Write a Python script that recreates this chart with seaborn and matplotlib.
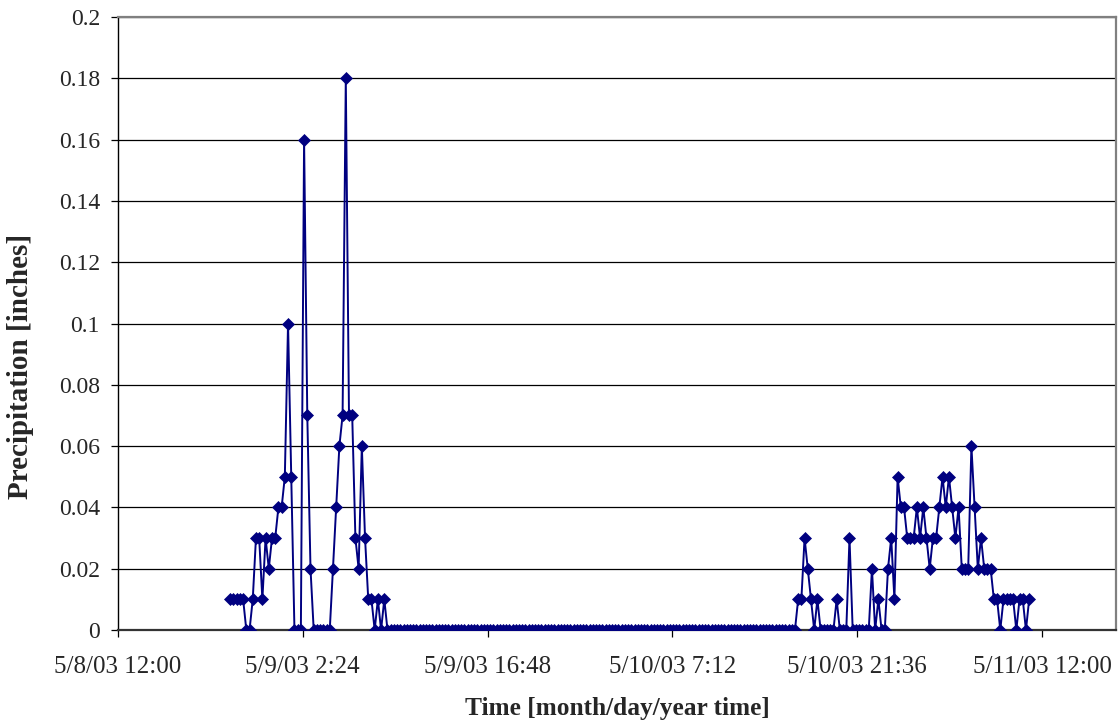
import numpy as np
import pandas as pd
import matplotlib
matplotlib.use("Agg")
import matplotlib.pyplot as plt
import seaborn as sns

# ---------------- data ----------------
start_time = "2003-05-08 12:00"      # left end of the time axis
interval_minutes = 15                # spacing of the readings
storm1_first_step = 35               # first reading = 5/8/03 20:45

storm1 = [0.01, 0.01, 0.01, 0.01, 0.01, 0, 0, 0.01, 0.03, 0.03, 0.01, 0.03,
          0.02, 0.03, 0.03, 0.04, 0.04, 0.05, 0.10, 0.05, 0, 0, 0, 0.16,
          0.07, 0.02, 0, 0, 0, 0, 0, 0, 0.02, 0.04, 0.06, 0.07, 0.18, 0.07,
          0.07, 0.03, 0.02, 0.06, 0.03, 0.01, 0.01, 0, 0.01, 0, 0.01]
dry_zero_readings = 128              # readings of 0 between the two storms
storm2 = [0.01, 0.01, 0.03, 0.02, 0.01, 0, 0.01, 0, 0, 0, 0, 0, 0.01, 0, 0,
          0, 0.03, 0, 0, 0, 0, 0, 0, 0.02, 0, 0.01, 0, 0, 0.02, 0.03, 0.01,
          0.05, 0.04, 0.04, 0.03, 0.03, 0.03, 0.04, 0.03, 0.04, 0.03, 0.02,
          0.03, 0.03, 0.04, 0.05, 0.04, 0.05, 0.04, 0.03, 0.04, 0.02, 0.02,
          0.02, 0.06, 0.04, 0.02, 0.03, 0.02, 0.02, 0.02, 0.01, 0.01, 0,
          0.01, 0.01, 0.01, 0.01, 0, 0.01, 0.01, 0, 0.01]

x_tick_labels = ["5/8/03 12:00", "5/9/03 2:24", "5/9/03 16:48",
                 "5/10/03 7:12", "5/10/03 21:36", "5/11/03 12:00"]
x_tick_step_hours = 14.4
x_axis_span_days = 3.2403
y_ticks = [0, 0.02, 0.04, 0.06, 0.08, 0.1, 0.12, 0.14, 0.16, 0.18, 0.2]
y_tick_labels = ["0", "0.02", "0.04", "0.06", "0.08", "0.1", "0.12",
                 "0.14", "0.16", "0.18", "0.2"]

# ---------------- build the table ----------------
values = storm1 + [0] * dry_zero_readings + storm2
t0 = pd.Timestamp(start_time)
steps = storm1_first_step + np.arange(len(values))
df = pd.DataFrame({
    "time": t0 + pd.to_timedelta(steps * interval_minutes, unit="min"),
    "precip": values,
})

# ---------------- draw ----------------
sns.set_style("white")
plt.rcParams["font.family"] = ["Liberation Serif", "DejaVu Serif"]

fig = plt.figure(figsize=(11.18, 7.26), dpi=100)
ax = fig.add_axes([118 / 1118, 1 - 630 / 726, 998 / 1118, 613 / 726])

sns.lineplot(data=df, x="time", y="precip", ax=ax, color="#000080",
             linewidth=1.4, marker="D", markersize=6.2,
             markerfacecolor="#000080", markeredgecolor="#000080",
             markeredgewidth=0.5, zorder=3)

ax.set_ylim(0, 0.2)
ax.set_yticks(y_ticks)
ax.set_yticklabels(y_tick_labels)
ax.set_xlim(t0, t0 + pd.Timedelta(days=x_axis_span_days))
tick_times = [t0 + pd.Timedelta(hours=x_tick_step_hours * k)
              for k in range(len(x_tick_labels))]
ax.set_xticks(tick_times)
ax.set_xticklabels(x_tick_labels)

ax.yaxis.grid(True, color="black", linewidth=0.9)
ax.xaxis.grid(False)
ax.set_axisbelow(True)

for side in ["top", "right"]:
    ax.spines[side].set_color("#808080")
    ax.spines[side].set_linewidth(1.6)
ax.spines["left"].set_color("black")
ax.spines["left"].set_linewidth(1.0)
ax.spines["bottom"].set_color("#333333")
ax.spines["bottom"].set_linewidth(1.6)

ax.tick_params(axis="y", direction="out", length=5, width=0.9,
               color="black", labelsize=17, pad=8, left=True)
ax.tick_params(axis="x", direction="out", length=5, width=0.9,
               color="black", labelsize=18, pad=13.5, bottom=True)

ax.set_xlabel("Time [month/day/year time]", fontsize=18.3, fontweight="bold")
ax.set_ylabel("Precipitation [inches]", fontsize=21, fontweight="bold")
ax.xaxis.label.set_va("center")
ax.yaxis.label.set_va("center")
ax.xaxis.set_label_coords(0.5, -(709 - 630) / 613)
ax.yaxis.set_label_coords((21 - 118) / 998, (630 - 366) / 613)

fig.savefig("out.png", dpi=100)
